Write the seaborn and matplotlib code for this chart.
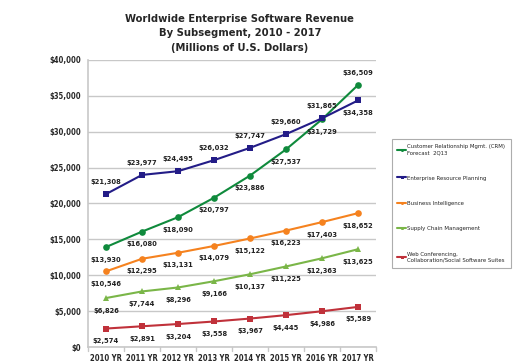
import numpy as np
import pandas as pd
import matplotlib
matplotlib.use("Agg")
import matplotlib.pyplot as plt
from matplotlib import font_manager
import seaborn as sns

years = ["2010 YR", "2011 YR", "2012 YR", "2013 YR", "2014 YR", "2015 YR", "2016 YR", "2017 YR"]
crm = [13930, 16080, 18090, 20797, 23886, 27537, 31729, 36509]
erp = [21308, 23977, 24495, 26032, 27747, 29660, 31865, 34358]
bi = [10546, 12295, 13131, 14079, 15122, 16223, 17403, 18652]
scm = [6826, 7744, 8296, 9166, 10137, 11225, 12363, 13625]
web = [2574, 2891, 3204, 3558, 3967, 4445, 4986, 5589]

names = ["Customer Relationship Mgmt. (CRM)\nForecast  2Q13",
         "Enterprise Resource Planning",
         "Business Intelligence",
         "Supply Chain Management",
         "Web Conferencing,\nCollaboration/Social Software Suites"]
series = [crm, erp, bi, scm, web]
colors = ["#0f8a3c", "#231c87", "#f5821f", "#7ab648", "#c0313a"]
markers = ["o", "s", "o", "^", "s"]

sns.set_style("white")
avail = {f.name for f in font_manager.fontManager.ttflist}
if "Liberation Sans Narrow" in avail:
    plt.rcParams['font.family'] = ['Liberation Sans Narrow', 'DejaVu Sans']
else:
    plt.rcParams['font.family'] = ['DejaVu Sans']
    plt.rcParams['font.stretch'] = 'condensed'

df = pd.DataFrame({
    "x": np.tile(np.arange(len(years)), len(names)),
    "value": np.concatenate(series),
    "series": np.repeat(names, len(years)),
})

fig = plt.figure(figsize=(5.19, 3.63), dpi=100)
ax = fig.add_axes([0.1696, 0.044, 0.555, 0.791])

sns.lineplot(data=df, x="x", y="value", hue="series", style="series",
             palette=colors, markers=markers, dashes=False, linewidth=1.5,
             markersize=4.8, markeredgewidth=0, ax=ax, legend=True)

# data labels: mostly below, ERP above
for i, (vals, name) in enumerate(zip(series, names)):
    for j, v in enumerate(vals):
        above = False
        if i == 1:
            above = j != 7
        if i == 0 and j == 7:
            above = True
        dy = 8.5 if above else -9
        ax.annotate("${:,}".format(v), (j, v), xytext=(0, dy), textcoords="offset points",
                    ha="center", va="center", fontsize=5.4, color="#222222", fontweight="bold")

ax.set_xlim(-0.5, 7.5)
ax.set_ylim(0, 40000)
ax.set_xticks(np.arange(len(years)))
ax.set_xticklabels(years, fontsize=5.5, fontweight="bold")
ax.set_yticks(np.arange(0, 40001, 5000))
ax.set_yticklabels(["${:,}".format(v) for v in range(0, 40001, 5000)], fontsize=5.5, fontweight="bold")
ax.tick_params(axis="both", length=0, pad=5)
ax.set_xlabel("")
ax.set_ylabel("")
ax.yaxis.grid(True, color="#c8c8c8", linewidth=1)
for s in ["top", "right"]:
    ax.spines[s].set_visible(False)
ax.spines["left"].set_color("#c8c8c8")
ax.spines["bottom"].set_color("#c8c8c8")
ax.spines["left"].set_linewidth(1.2)
ax.spines["bottom"].set_linewidth(1.2)
# category separator ticks below the axis
for k in range(9):
    ax.plot([k - 0.5, k - 0.5], [0, -600], color="#c8c8c8", linewidth=1, clip_on=False)

handles, labels = ax.get_legend_handles_labels()
leg = ax.legend(handles, labels, loc="upper left", bbox_to_anchor=(1.055, 0.725),
                frameon=True, fontsize=4.3, handlelength=1.5, handletextpad=0.2,
                labelspacing=3.4, borderpad=0.9, borderaxespad=0, fancybox=False,
                markerscale=0.45)
leg.get_frame().set_edgecolor("#999999")
leg.get_frame().set_linewidth(0.8)

fig.text(0.462, 0.962, "Worldwide Enterprise Software Revenue\nBy Subsegment, 2010 - 2017\n(Millions of U.S. Dollars)",
         ha="center", va="top", fontsize=8, fontweight="bold", linespacing=1.55)

fig.savefig("out.png", dpi=100)
